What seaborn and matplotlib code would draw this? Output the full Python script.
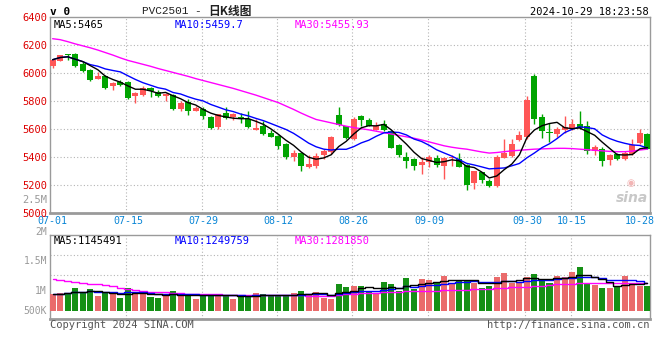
import matplotlib
matplotlib.use("Agg")
import matplotlib.pyplot as plt
import seaborn as sns
import numpy as np
import pandas as pd

# daily OHLC for PVC2501, 2024-07-01 .. 2024-10-29 (80 trading days)
opens = [6050, 6086, 6138, 6138, 6067, 6024, 5955, 5976, 5907, 5933,
         5933, 5833, 5841, 5895, 5867, 5833, 5845, 5745, 5795, 5731,
         5740, 5688, 5612, 5717, 5683, 5688, 5674, 5590, 5621, 5574,
         5550, 5495, 5398, 5431, 5329, 5333, 5417, 5436, 5702, 5619,
         5531, 5690, 5662, 5595, 5633, 5586, 5488, 5400, 5388, 5340,
         5364, 5395, 5336, 5395, 5388, 5345, 5214, 5293, 5229, 5190,
         5395, 5405, 5519, 5543, 5976, 5686, 5578, 5567, 5595, 5602,
         5638, 5621, 5443, 5460, 5381, 5421, 5388, 5419, 5500, 5567]
highs = [6100, 6130, 6138, 6145, 6080, 6025, 6007, 5985, 5936, 5952,
         5940, 5862, 5907, 5900, 5876, 5855, 5852, 5800, 5817, 5764,
         5755, 5690, 5710, 5760, 5714, 5714, 5726, 5669, 5655, 5590,
         5555, 5500, 5452, 5433, 5412, 5429, 5460, 5548, 5760, 5621,
         5683, 5698, 5681, 5650, 5662, 5590, 5490, 5436, 5390, 5400,
         5412, 5412, 5400, 5412, 5429, 5352, 5300, 5295, 5245, 5412,
         5531, 5531, 5583, 5833, 5990, 5710, 5643, 5614, 5693, 5674,
         5729, 5655, 5488, 5471, 5424, 5429, 5440, 5531, 5602, 5574]
lows = [6035, 6085, 6090, 6045, 6010, 5940, 5955, 5883, 5876, 5910,
        5812, 5788, 5838, 5829, 5830, 5800, 5738, 5731, 5698, 5728,
        5669, 5602, 5602, 5669, 5662, 5640, 5610, 5590, 5560, 5540,
        5460, 5383, 5369, 5298, 5321, 5324, 5388, 5424, 5621, 5526,
        5524, 5621, 5618, 5595, 5588, 5465, 5400, 5324, 5305, 5281,
        5329, 5329, 5245, 5333, 5325, 5162, 5174, 5217, 5186, 5186,
        5393, 5400, 5517, 5531, 5638, 5538, 5507, 5543, 5574, 5590,
        5602, 5424, 5412, 5333, 5345, 5376, 5376, 5412, 5495, 5455]
closes = [6095, 6126, 6126, 6048, 6012, 5952, 5979, 5895, 5929, 5917,
          5819, 5860, 5895, 5869, 5833, 5850, 5740, 5788, 5729, 5750,
          5690, 5610, 5705, 5676, 5705, 5671, 5612, 5610, 5567, 5543,
          5476, 5400, 5431, 5333, 5350, 5407, 5445, 5545, 5626, 5536,
          5669, 5667, 5621, 5619, 5590, 5467, 5412, 5369, 5333, 5364,
          5400, 5340, 5395, 5400, 5329, 5202, 5298, 5233, 5190, 5400,
          5431, 5495, 5560, 5805, 5674, 5583, 5574, 5602, 5614, 5638,
          5610, 5443, 5471, 5369, 5412, 5388, 5431, 5488, 5574, 5455]
# 30-day average as drawn (needs June data)
ma30_price = [6245, 6238, 6224, 6208, 6194, 6180, 6164, 6146, 6128, 6108,
              6090, 6076, 6062, 6048, 6032, 6018, 6004, 5990, 5976, 5960,
              5946, 5932, 5918, 5904, 5890, 5874, 5858, 5842, 5824, 5806,
              5788, 5764, 5740, 5714, 5690, 5668, 5656, 5644, 5632, 5620,
              5610, 5602, 5594, 5584, 5574, 5564, 5554, 5544, 5534, 5522,
              5508, 5494, 5480, 5470, 5462, 5456, 5446, 5436, 5428, 5432,
              5438, 5444, 5448, 5452, 5456, 5458, 5460, 5462, 5462, 5460,
              5456, 5452, 5448, 5444, 5440, 5438, 5438, 5442, 5450, 5456]

volumes = [756, 828, 828, 1041, 860, 996, 692, 801, 801, 602,
           1041, 801, 815, 647, 602, 783, 905, 692, 724, 557,
           769, 769, 756, 710, 557, 710, 679, 828, 783, 679,
           692, 692, 828, 919, 783, 873, 602, 529, 1222, 1100,
           1131, 1131, 905, 828, 1312, 1222, 905, 1493, 982, 1448,
           1403, 1253, 1597, 1281, 1403, 1403, 1281, 1027, 1131, 1552,
           1706, 1281, 1281, 1552, 1674, 1403, 1281, 1597, 1552, 1765,
           2005, 1222, 1177, 1054, 1054, 1100, 1597, 1281, 1131, 1131]
ma30_vol = [1470, 1420, 1380, 1330, 1280, 1240, 1205, 1170, 1120, 1060,
            990, 940, 910, 880, 860, 845, 830, 810, 790, 772,
            765, 758, 750, 744, 738, 735, 732, 728, 724, 720,
            716, 712, 710, 706, 700, 696, 692, 700, 725, 760,
            785, 800, 815, 835, 850, 868, 880, 890, 898, 904,
            908, 918, 930, 940, 950, 965, 980, 995, 1010, 1027,
            1045, 1065, 1082, 1100, 1125, 1150, 1175, 1200, 1222, 1235,
            1245, 1250, 1253, 1258, 1262, 1266, 1270, 1274, 1278, 1282]

tick_idx = [0, 10, 20, 30, 40, 50, 63, 69, 78]
tick_lbl = ["07-01", "07-15", "07-29", "08-12", "08-26", "09-09", "09-30", "10-15", "10-28"]
grid_idx = [10, 20, 30, 40, 50, 63, 69]
price_ticks = [5000, 5200, 5400, 5600, 5800, 6000, 6200, 6400]

RED = "#ff5656"
GREEN = "#00a400"
GRID = "#b4b4b4"
FRAME = "#9a9a9a"
MONO = "DejaVu Sans Mono"

df = pd.DataFrame({"day": np.arange(len(closes)), "open": opens, "high": highs,
                   "low": lows, "close": closes, "vol": np.array(volumes) * 1000})
df["up"] = df["close"] >= df["open"]
df["ma5"] = df["close"].rolling(5, min_periods=1).mean()
df["ma10"] = df["close"].rolling(10, min_periods=1).mean()
df["ma30"] = ma30_price
df["vma5"] = df["vol"].rolling(5, min_periods=1).mean()
df["vma10"] = df["vol"].rolling(10, min_periods=1).mean()
df["vma30"] = np.array(ma30_vol) * 1000

sns.set_theme(style="white")
plt.rcParams["font.family"] = [MONO, "Noto Sans CJK SC"]

fig = plt.figure(figsize=(6.6, 3.6), dpi=100)
ax = fig.add_axes([50 / 660, 1 - 213 / 360, 600 / 660, 196 / 360])
axv = fig.add_axes([50 / 660, 1 - 318.7 / 360, 600 / 660, 84 / 360])

xlim = (-0.35, 79.35)

# ---- price panel ----
colors = np.where(df["up"], RED, GREEN)
ax.vlines(df["day"], df["low"], df["high"], colors=colors, lw=1, zorder=3)
body = np.maximum((df["close"] - df["open"]).abs(), 4)
ax.bar(df["day"], body, bottom=np.minimum(df["open"], df["close"]),
       width=0.8, color=colors, linewidth=0, zorder=4)
sns.lineplot(data=df, x="day", y="ma30", ax=ax, color="#ff00ff", lw=1, zorder=5)
sns.lineplot(data=df, x="day", y="ma10", ax=ax, color="#0000ff", lw=1, zorder=6)
sns.lineplot(data=df, x="day", y="ma5", ax=ax, color="black", lw=1, zorder=7)

ax.set_xlim(xlim)
ax.set_ylim(5000, 6400)
ax.set_yticks(price_ticks)
ax.set_yticklabels([str(t) for t in price_ticks], color="#dd0000", fontsize=7.5)
ax.set_xticks(tick_idx)
ax.set_xticklabels(tick_lbl, color="#0a86d6", fontsize=7.2)
ax.tick_params(axis="y", length=0, pad=2)
ax.tick_params(axis="x", length=0, pad=2.5)
ax.set_xlabel("")
ax.set_ylabel("")
for t in price_ticks[1:-1]:
    ax.axhline(t, color=GRID, lw=0.8, ls=(0, (1, 2)), zorder=1)
for g in grid_idx:
    ax.axvline(g - 0.2, color=GRID, lw=0.8, ls=(0, (1, 2)), zorder=1)
    axv.axvline(g - 0.2, color=GRID, lw=0.8, ls=(0, (1, 2)), zorder=1)
for s in ax.spines.values():
    s.set_color(FRAME)
    s.set_linewidth(1)
ax.spines["bottom"].set_linewidth(2)

ax.text(0.006, 0.985, "MA5:5465", transform=ax.transAxes, va="top", fontsize=7.5, color="black")
ax.text(0.208, 0.985, "MA10:5459.7", transform=ax.transAxes, va="top", fontsize=7.5, color="#0000ff")
ax.text(0.408, 0.985, "MA30:5455.93", transform=ax.transAxes, va="top", fontsize=7.5, color="#ff00ff")
ax.text(0.997, 0.04, "sina", transform=ax.transAxes, ha="right", va="bottom", fontsize=10,
        color="#c8c8c8", style="italic", weight="bold", family="DejaVu Sans")
ax.text(0.975, 0.13, "◉", transform=ax.transAxes, ha="right", va="bottom", fontsize=7,
        color="#f3b5b5", family="DejaVu Sans")

fig.text(50 / 660, 1 - 12 / 360, "v 0", fontsize=8, weight="bold", va="center", color="black")
fig.text(142 / 660, 1 - 11 / 360, "PVC2501 - ", fontsize=8, va="center",
         family=["Liberation Mono", "Noto Sans CJK SC"], color="#222222")
fig.text(208 / 660, 1 - 11 / 360, "日K线图", fontsize=8.5, va="center",
         family=["Noto Sans CJK SC"], weight="bold", color="#222222")
fig.text(649 / 660, 1 - 12 / 360, "2024-10-29 18:23:58", fontsize=7.5, ha="right",
         va="center", color="black")
fig.text(47 / 660, 1 - 200 / 360, "2.5M", fontsize=7.5, ha="right", va="center", color="#999999")

# ---- volume panel ----
sns.barplot(data=df, x="day", y="vol", hue="up", palette={True: RED, False: GREEN},
            native_scale=True, dodge=False, width=0.8, linewidth=0, legend=False,
            ax=axv, zorder=3)
sns.lineplot(data=df, x="day", y="vma30", ax=axv, color="#ff00ff", lw=1,
             drawstyle="steps-mid", zorder=5)
sns.lineplot(data=df, x="day", y="vma10", ax=axv, color="#0000ff", lw=1,
             drawstyle="steps-mid", zorder=6)
sns.lineplot(data=df, x="day", y="vma5", ax=axv, color="black", lw=1,
             drawstyle="steps-mid", zorder=7)
axv.set_xlim(xlim)
axv.set_ylim(-348e3, 3.453e6)
axv.set_xticks([])
axv.set_yticks([])
axv.set_xlabel("")
axv.set_ylabel("")
for v in [1.615e6, 2.52e6]:
    axv.axhline(v, color=GRID, lw=0.8, ls=(0, (1, 2)), zorder=1)
for s in axv.spines.values():
    s.set_color(FRAME)
    s.set_linewidth(1)
axv.spines["bottom"].set_linewidth(2)

axv.text(0.006, 0.985, "MA5:1145491", transform=axv.transAxes, va="top", fontsize=7.5, color="black")
axv.text(0.208, 0.985, "MA10:1249759", transform=axv.transAxes, va="top", fontsize=7.5, color="#0000ff")
axv.text(0.408, 0.985, "MA30:1281850", transform=axv.transAxes, va="top", fontsize=7.5, color="#ff00ff")

for lbl, ypix in [("2M", 232), ("1.5M", 261), ("1M", 291), ("500K", 311)]:
    fig.text(47 / 660, 1 - ypix / 360, lbl, fontsize=7, ha="right", va="center", color="#999999")

fig.text(50 / 660, 1 - 325 / 360, "Copyright 2024 SINA.COM", fontsize=7.5, va="center", color="#555555")
fig.text(649 / 660, 1 - 325 / 360, "http://finance.sina.com.cn", fontsize=7.5, ha="right",
         va="center", color="#555555")

fig.savefig("out.png", dpi=100)
plt.close(fig)
